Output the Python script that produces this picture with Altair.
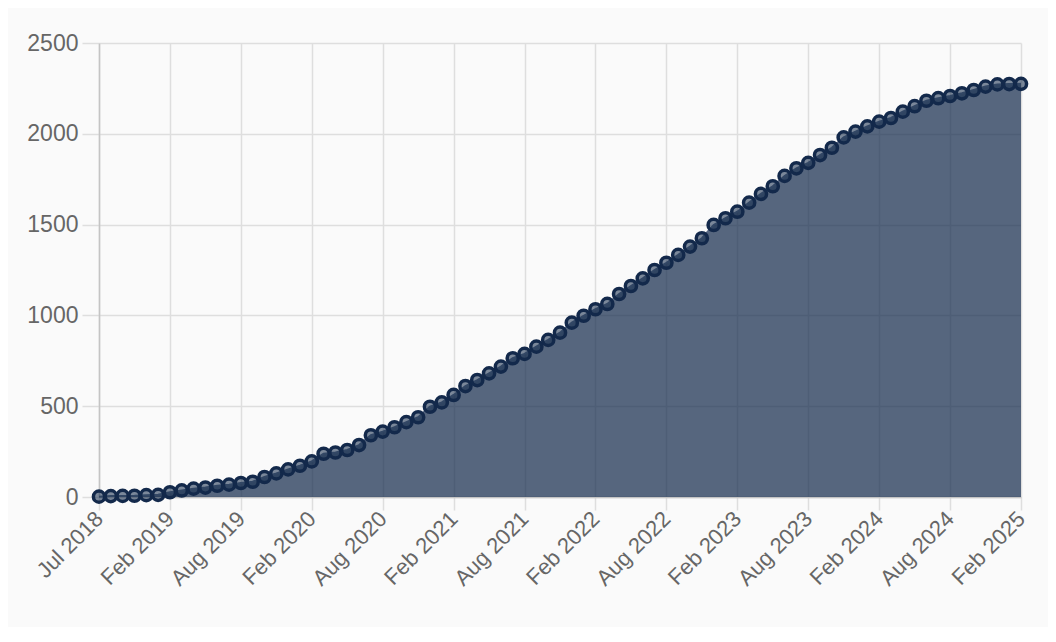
import json
import altair as alt
import pandas as pd

# cumulative totals, one per point (79 points)
VALUES = [
    2, 5, 6, 7, 10, 12, 26, 36, 46, 52,
    62, 68, 77, 84, 110, 130, 152, 172, 196, 238,
    245, 259, 286, 340, 360, 384, 412, 439, 497, 521,
    562, 611, 644, 681, 718, 764, 788, 828, 865, 905,
    960, 998, 1034, 1063, 1118, 1162, 1204, 1250, 1290, 1333,
    1379, 1425, 1498, 1535, 1571, 1621, 1669, 1711, 1768, 1810,
    1840, 1883, 1923, 1980, 2012, 2041, 2067, 2087, 2122, 2152,
    2182, 2196, 2208, 2223, 2241, 2260, 2272, 2274, 2275,
]

TICK_LABELS = [
    "Jul 2018", "Feb 2019", "Aug 2019", "Feb 2020", "Aug 2020", "Feb 2021",
    "Aug 2021", "Feb 2022", "Aug 2022", "Feb 2023", "Aug 2023", "Feb 2024",
    "Aug 2024", "Feb 2025",
]
Y_TICKS = [0, 500, 1000, 1500, 2000, 2500]

n = len(VALUES)
step = (n - 1) // (len(TICK_LABELS) - 1)
df = pd.DataFrame({"idx": list(range(n)), "value": VALUES})

NAVY = "#13294b"
FONT = "Liberation Sans"

x_enc = alt.X(
    "idx:Q",
    scale=alt.Scale(domain=[0, n - 1], nice=False, zero=False),
    axis=alt.Axis(
        values=list(range(0, n, step)),
        labelExpr=f"{json.dumps(TICK_LABELS)}[round(datum.value / {step})]",
        labelAngle=-45,
        labelAlign="right",
        labelBaseline="middle",
        labelOverlap=False,
        labelFlush=False,
        labelBound=False,
        labelFontSize=22,
        title=None,
        tickSize=13,
        labelPadding=5,
    ),
)
y_enc = alt.Y(
    "value:Q",
    scale=alt.Scale(domain=[0, 2500], nice=False),
    axis=alt.Axis(values=Y_TICKS, format="d", title=None, tickSize=17,
                  labelPadding=4, labelOverlap=False, labelFontSize=23),
)

base = alt.Chart(df).encode(x=x_enc, y=y_enc)

area = base.mark_area(color=NAVY, opacity=0.71)
line = base.mark_line(color="#5a6a85", strokeWidth=2)
pts = base.mark_point(
    filled=False, shape="circle", size=125, stroke=NAVY, strokeWidth=3.5,
    fill=NAVY, fillOpacity=0.55, opacity=1,
)

chart = (
    alt.layer(area, line, pts)
    .properties(
        width=922,
        height=454,
        padding={"left": 91, "top": 35, "right": 27, "bottom": 130},
        autosize=alt.AutoSizeParams(type="none"),
        background="#fafafa",
    )
    .configure_view(stroke=None)
    .configure_axis(
        labelFont=FONT,
        labelColor="#666666",
        gridColor="#dedede",
        tickColor="#dedede",
        domainColor="#c4c4c4",
        gridWidth=1.5,
        tickWidth=1.5,
        domainWidth=1.5,
    )
)

chart.save("out.html", embed_options={"renderer": "svg", "actions": False})
